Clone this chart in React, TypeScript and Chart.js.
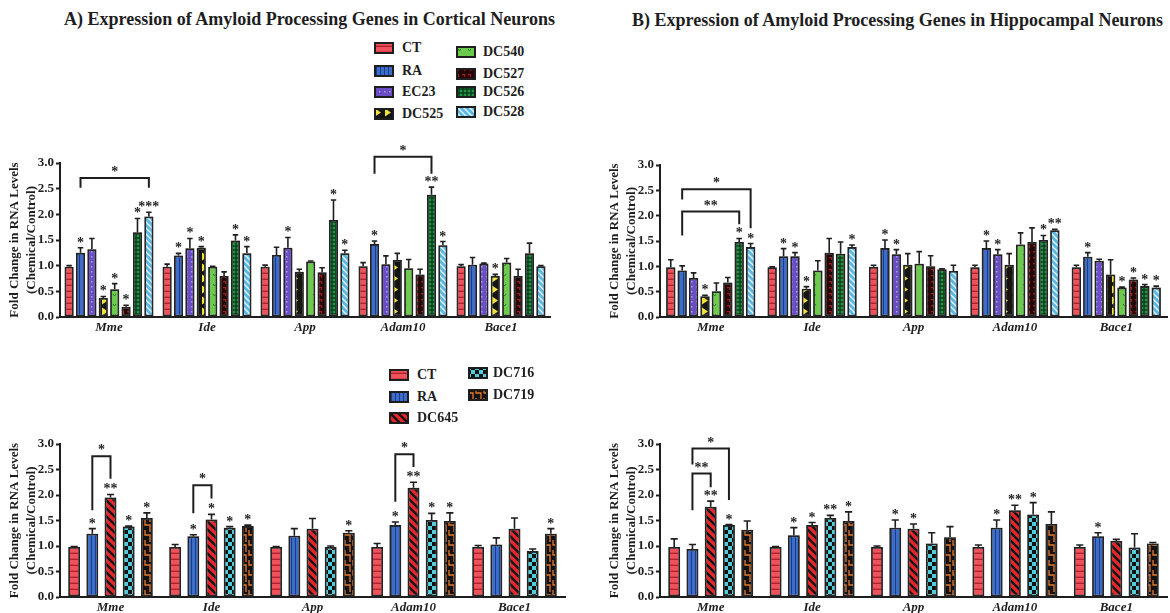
import React, { useEffect, useRef } from 'react';
import { Chart, registerables } from 'chart.js';
Chart.register(...registerables);

// ---------------- DATA ----------------
const genes = ['Mme', 'Ide', 'App', 'Adam10', 'Bace1'];
const yTickValues = [0, 0.5, 1, 1.5, 2, 2.5, 3];
const seriesTop = ['CT', 'RA', 'EC23', 'DC525', 'DC540', 'DC527', 'DC526', 'DC528'];
const seriesBottom = ['CT', 'RA', 'DC645', 'DC716', 'DC719'];
const titleA = 'A) Expression of Amyloid Processing Genes in Cortical Neurons';
const titleB = 'B) Expression of Amyloid Processing Genes in Hippocampal Neurons';
const yTitle = ['Fold Change in RNA Levels', '(Chemical/Control)'];

// Panel A (cortical, top) — mean, upper error, significance
const A_CT = [0.98, 0.98, 0.98, 0.99, 0.99];
const A_RA = [1.25, 1.2, 1.21, 1.42, 1.02];
const A_EC23 = [1.32, 1.34, 1.35, 1.03, 1.04];
const A_DC525 = [0.37, 1.35, 0.88, 1.11, 0.8];
const A_DC540 = [0.54, 0.98, 1.08, 0.95, 1.06];
const A_DC527 = [0.2, 0.8, 0.87, 0.83, 0.8];
const A_DC526 = [1.65, 1.49, 1.89, 2.38, 1.24];
const A_DC528 = [1.96, 1.24, 1.24, 1.4, 0.99];
const A_CT_ERR = [0.02, 0.05, 0.03, 0.07, 0.03];
const A_RA_ERR = [0.1, 0.04, 0.15, 0.06, 0.14];
const A_EC23_ERR = [0.21, 0.19, 0.2, 0.16, 0.01];
const A_DC525_ERR = [0.03, 0.02, 0.05, 0.13, 0.03];
const A_DC540_ERR = [0.11, 0.01, 0.01, 0.17, 0.08];
const A_DC527_ERR = [0.03, 0.08, 0.09, 0.1, 0.13];
const A_DC526_ERR = [0.27, 0.11, 0.39, 0.15, 0.2];
const A_DC528_ERR = [0.08, 0.13, 0.06, 0.07, 0.01];
const A_CT_SIG = ['', '', '', '', ''];
const A_RA_SIG = ['*', '*', '', '*', ''];
const A_EC23_SIG = ['', '*', '*', '', ''];
const A_DC525_SIG = ['*', '*', '', '', '*'];
const A_DC540_SIG = ['*', '', '', '', ''];
const A_DC527_SIG = ['*', '', '', '', ''];
const A_DC526_SIG = ['*', '*', '*', '**', ''];
const A_DC528_SIG = ['***', '*', '*', '*', ''];
const A_BRACKETS = [
  { gene: 0, from: 1, to: 7, top: 2.71, leftEnd: 2.52, rightEnd: 2.52, label: '*' },
  { gene: 3, from: 1, to: 6, top: 3.12, leftEnd: 2.79, rightEnd: 2.79, label: '*' },
];

// Panel B (hippocampal, top)
const B_CT = [0.98, 0.98, 0.99, 0.98, 0.98];
const B_RA = [0.92, 1.2, 1.36, 1.36, 1.19];
const B_EC23 = [0.77, 1.2, 1.24, 1.24, 1.11];
const B_DC525 = [0.41, 0.56, 1.03, 1.03, 0.84];
const B_DC540 = [0.51, 0.92, 1.05, 1.43, 0.58];
const B_DC527 = [0.68, 1.27, 1.0, 1.48, 0.74];
const B_DC526 = [1.48, 1.25, 0.94, 1.52, 0.61];
const B_DC528 = [1.38, 1.38, 0.91, 1.71, 0.58];
const B_CT_ERR = [0.15, 0.01, 0.03, 0.04, 0.04];
const B_RA_ERR = [0.09, 0.15, 0.16, 0.14, 0.08];
const B_EC23_ERR = [0.1, 0.07, 0.09, 0.09, 0.03];
const B_DC525_ERR = [0.02, 0.04, 0.22, 0.22, 0.29];
const B_DC540_ERR = [0.16, 0.19, 0.24, 0.23, 0.01];
const B_DC527_ERR = [0.1, 0.28, 0.21, 0.28, 0.03];
const B_DC526_ERR = [0.07, 0.23, 0.01, 0.09, 0.03];
const B_DC528_ERR = [0.07, 0.04, 0.11, 0.02, 0.03];
const B_CT_SIG = ['', '', '', '', ''];
const B_RA_SIG = ['', '*', '*', '*', '*'];
const B_EC23_SIG = ['', '*', '*', '*', ''];
const B_DC525_SIG = ['*', '*', '', '', ''];
const B_DC540_SIG = ['', '', '', '', '*'];
const B_DC527_SIG = ['', '', '', '', '*'];
const B_DC526_SIG = ['*', '', '', '*', '*'];
const B_DC528_SIG = ['*', '*', '', '**', '*'];
const B_BRACKETS = [
  { gene: 0, from: 1, to: 7, top: 2.52, leftEnd: 2.32, rightEnd: 1.75, label: '*' },
  { gene: 0, from: 1, to: 6, top: 2.08, leftEnd: 1.61, rightEnd: 1.83, label: '**' },
];

// Panel C (cortical, bottom)
const C_CT = [0.98, 0.98, 0.98, 0.98, 0.98];
const C_RA = [1.24, 1.19, 1.2, 1.41, 1.03];
const C_DC645 = [1.95, 1.52, 1.34, 2.14, 1.34];
const C_DC716 = [1.38, 1.36, 0.98, 1.51, 0.9];
const C_DC719 = [1.55, 1.39, 1.26, 1.49, 1.24];
const C_CT_ERR = [0.01, 0.05, 0.01, 0.07, 0.03];
const C_RA_ERR = [0.1, 0.03, 0.14, 0.06, 0.13];
const C_DC645_ERR = [0.06, 0.1, 0.2, 0.11, 0.21];
const C_DC716_ERR = [0.01, 0.02, 0.02, 0.13, 0.04];
const C_DC719_ERR = [0.1, 0.02, 0.04, 0.16, 0.1];
const C_CT_SIG = ['', '', '', '', ''];
const C_RA_SIG = ['*', '*', '', '*', ''];
const C_DC645_SIG = ['**', '*', '', '**', ''];
const C_DC716_SIG = ['*', '*', '', '*', ''];
const C_DC719_SIG = ['*', '*', '*', '*', '*'];
const C_BRACKETS = [
  { gene: 0, from: 1, to: 2, top: 2.76, leftEnd: 1.7, rightEnd: 2.32, label: '*' },
  { gene: 1, from: 1, to: 2, top: 2.19, leftEnd: 1.64, rightEnd: 1.93, label: '*' },
  { gene: 3, from: 1, to: 2, top: 2.8, leftEnd: 1.87, rightEnd: 2.55, label: '*' },
];

// Panel D (hippocampal, bottom)
const D_CT = [0.98, 0.98, 0.98, 0.98, 0.98];
const D_RA = [0.94, 1.21, 1.36, 1.36, 1.19];
const D_DC645 = [1.77, 1.41, 1.34, 1.7, 1.1];
const D_DC716 = [1.41, 1.55, 1.05, 1.62, 0.97];
const D_DC719 = [1.32, 1.49, 1.17, 1.43, 1.05];
const D_CT_ERR = [0.16, 0.01, 0.02, 0.04, 0.04];
const D_RA_ERR = [0.09, 0.15, 0.15, 0.15, 0.07];
const D_DC645_ERR = [0.11, 0.05, 0.09, 0.1, 0.03];
const D_DC716_ERR = [0.01, 0.05, 0.21, 0.23, 0.27];
const D_DC719_ERR = [0.17, 0.18, 0.21, 0.24, 0.02];
const D_CT_SIG = ['', '', '', '', ''];
const D_RA_SIG = ['', '*', '*', '*', '*'];
const D_DC645_SIG = ['**', '*', '*', '**', ''];
const D_DC716_SIG = ['*', '**', '', '*', ''];
const D_DC719_SIG = ['', '*', '', '', ''];
const D_BRACKETS = [
  { gene: 0, from: 1, to: 3, top: 2.91, leftEnd: 2.6, rightEnd: 1.9, label: '*' },
  { gene: 0, from: 1, to: 2, top: 2.42, leftEnd: 1.7, rightEnd: 2.15, label: '**' },
];

// ---------------- STYLE ----------------
const SERIF = '"Liberation Serif", "Times New Roman", serif';
const INK = '#1e1e1e';

function pat(w: number, h: number, bg: string, draw: (c: CanvasRenderingContext2D) => void): CanvasPattern | string {
  const cv = document.createElement('canvas');
  cv.width = w;
  cv.height = h;
  const c = cv.getContext('2d');
  if (!c) return bg;
  c.fillStyle = bg;
  c.fillRect(0, 0, w, h);
  draw(c);
  return c.createPattern(cv, 'repeat') || bg;
}

function diag(c: CanvasRenderingContext2D, s: number, color: string, lw: number) {
  c.strokeStyle = color;
  c.lineWidth = lw;
  c.beginPath();
  c.moveTo(-1, -1); c.lineTo(s + 1, s + 1);
  c.moveTo(-1, s - 1); c.lineTo(1, s + 1);
  c.moveTo(s - 1, -1); c.lineTo(s + 1, 1);
  c.stroke();
}

function makeFill(name: string): CanvasPattern | string {
  switch (name) {
    case 'CT':
      return pat(6, 6, '#f0525c', c => { c.fillStyle = '#b0222d'; c.fillRect(0, 4.6, 6, 1.4); });
    case 'RA':
      return pat(4, 4, '#3b6dc9', c => { c.fillStyle = '#1c3a85'; c.fillRect(3, 0, 1, 4); });
    case 'EC23':
      return pat(5, 5, '#6a4ec6', c => { c.fillStyle = '#ab9bf0'; c.fillRect(1, 1, 1.5, 1.5); });
    case 'DC525':
      return pat(10, 11, '#141410', c => {
        c.fillStyle = '#f2e23a';
        c.beginPath(); c.moveTo(2, 1.5); c.lineTo(8, 5.5); c.lineTo(2, 9.5); c.closePath(); c.fill();
      });
    case 'DC540':
      return pat(10, 10, '#6ccb4d', c => {
        c.strokeStyle = '#2b7a2a'; c.lineWidth = 1;
        c.beginPath(); c.moveTo(3, 4); c.lineTo(4.5, 6); c.lineTo(6, 4); c.stroke();
      });
    case 'DC527':
      return pat(6, 6, '#240606', c => { c.fillStyle = '#9e1b1b'; c.fillRect(1, 1, 3, 1.3); c.fillRect(3, 1, 1.2, 3); });
    case 'DC526':
      return pat(4, 4, '#06301a', c => { c.fillStyle = '#22943f'; c.fillRect(0.6, 0.6, 2.8, 2.8); });
    case 'DC528':
      return pat(6, 6, '#58b8e6', c => diag(c, 6, '#e6f5ff', 1.4));
    case 'DC645':
      return pat(8, 8, '#e8262b', c => diag(c, 8, '#151515', 2.4));
    case 'DC716':
      return pat(8, 8, '#121212', c => { c.fillStyle = '#52cddc'; c.fillRect(0, 0, 4, 4); c.fillRect(4, 4, 4, 4); });
    case 'DC719':
      return pat(8, 10, '#121212', c => {
        c.strokeStyle = '#e8792b'; c.lineWidth = 1.3;
        c.beginPath();
        c.moveTo(1, 0); c.lineTo(1, 5); c.lineTo(6, 5); c.lineTo(6, 10);
        c.moveTo(6, 0); c.lineTo(6, 2);
        c.stroke();
      });
    default:
      return '#888';
  }
}

type Bracket = { gene: number; from: number; to: number; top: number; leftEnd: number; rightEnd: number; label: string };

type PanelCfg = {
  left: number; top: number; width: number; height: number;
  padTop: number; padRight: number; padBottom: number; xHeight: number;
  names: string[]; values: number[][]; errs: number[][]; sigs: string[][];
  brackets: Bracket[]; catPct: number; barPct: number;
};

const panelA: PanelCfg = {
  left: 0, top: 130, width: 580, height: 215, padTop: 33, padRight: 30, padBottom: 8, xHeight: 20,
  names: seriesTop,
  values: [A_CT, A_RA, A_EC23, A_DC525, A_DC540, A_DC527, A_DC526, A_DC528],
  errs: [A_CT_ERR, A_RA_ERR, A_EC23_ERR, A_DC525_ERR, A_DC540_ERR, A_DC527_ERR, A_DC526_ERR, A_DC528_ERR],
  sigs: [A_CT_SIG, A_RA_SIG, A_EC23_SIG, A_DC525_SIG, A_DC540_SIG, A_DC527_SIG, A_DC526_SIG, A_DC528_SIG],
  brackets: A_BRACKETS, catPct: 0.93, barPct: 0.8,
};
const panelB: PanelCfg = {
  left: 600, top: 130, width: 570, height: 215, padTop: 35, padRight: 3, padBottom: 8, xHeight: 20,
  names: seriesTop,
  values: [B_CT, B_RA, B_EC23, B_DC525, B_DC540, B_DC527, B_DC526, B_DC528],
  errs: [B_CT_ERR, B_RA_ERR, B_EC23_ERR, B_DC525_ERR, B_DC540_ERR, B_DC527_ERR, B_DC526_ERR, B_DC528_ERR],
  sigs: [B_CT_SIG, B_RA_SIG, B_EC23_SIG, B_DC525_SIG, B_DC540_SIG, B_DC527_SIG, B_DC526_SIG, B_DC528_SIG],
  brackets: B_BRACKETS, catPct: 0.9, barPct: 0.82,
};
const panelC: PanelCfg = {
  left: 0, top: 410, width: 580, height: 203, padTop: 34, padRight: 15, padBottom: 0, xHeight: 16,
  names: seriesBottom,
  values: [C_CT, C_RA, C_DC645, C_DC716, C_DC719],
  errs: [C_CT_ERR, C_RA_ERR, C_DC645_ERR, C_DC716_ERR, C_DC719_ERR],
  sigs: [C_CT_SIG, C_RA_SIG, C_DC645_SIG, C_DC716_SIG, C_DC719_SIG],
  brackets: C_BRACKETS, catPct: 0.9, barPct: 0.65,
};
const panelD: PanelCfg = {
  left: 600, top: 410, width: 570, height: 203, padTop: 34, padRight: 3, padBottom: 0, xHeight: 16,
  names: seriesBottom,
  values: [D_CT, D_RA, D_DC645, D_DC716, D_DC719],
  errs: [D_CT_ERR, D_RA_ERR, D_DC645_ERR, D_DC716_ERR, D_DC719_ERR],
  sigs: [D_CT_SIG, D_RA_SIG, D_DC645_SIG, D_DC716_SIG, D_DC719_SIG],
  brackets: D_BRACKETS, catPct: 0.9, barPct: 0.65,
};

function annotPlugin(cfg: PanelCfg) {
  return {
    id: 'annot',
    beforeDatasetsDraw(chart: any) {
      const ctx = chart.ctx;
      ctx.save();
      ctx.shadowColor = 'rgba(80,80,80,0.6)';
      ctx.shadowBlur = 2;
    },
    afterDatasetsDraw(chart: any) {
      const ctx = chart.ctx;
      ctx.restore();
      const ys = chart.scales.y;
      ctx.save();
      ctx.strokeStyle = INK;
      ctx.fillStyle = INK;
      ctx.lineWidth = 1.6;
      ctx.font = `bold 14px ${SERIF}`;
      ctx.textAlign = 'center';
      ctx.textBaseline = 'alphabetic';
      cfg.values.forEach((vals, di) => {
        const meta = chart.getDatasetMeta(di);
        meta.data.forEach((bar: any, gi: number) => {
          const v = vals[gi];
          const e = cfg.errs[di][gi];
          const x = bar.x;
          const y0 = ys.getPixelForValue(v);
          const y1 = ys.getPixelForValue(v + e);
          const cap = Math.max(2.5, bar.width * 0.3);
          ctx.beginPath();
          ctx.moveTo(x, y0);
          ctx.lineTo(x, y1);
          ctx.moveTo(x - cap, y1);
          ctx.lineTo(x + cap, y1);
          ctx.stroke();
          const s = cfg.sigs[di][gi];
          if (s) ctx.fillText(s, x, y1 - 1);
        });
      });
      ctx.lineWidth = 2;
      cfg.brackets.forEach(b => {
        const xl = chart.getDatasetMeta(b.from).data[b.gene].x;
        const xr = chart.getDatasetMeta(b.to).data[b.gene].x;
        const yt = ys.getPixelForValue(b.top);
        ctx.beginPath();
        ctx.moveTo(xl, ys.getPixelForValue(b.leftEnd));
        ctx.lineTo(xl, yt);
        ctx.lineTo(xr, yt);
        ctx.lineTo(xr, ys.getPixelForValue(b.rightEnd));
        ctx.stroke();
        ctx.fillText(b.label, (xl + xr) / 2, yt - 2);
      });
      ctx.restore();
    },
  };
}

function Panel({ cfg }: { cfg: PanelCfg }) {
  const ref = useRef<HTMLCanvasElement>(null);
  useEffect(() => {
    if (!ref.current) return;
    const chart = new Chart(ref.current, {
      type: 'bar',
      data: {
        labels: genes,
        datasets: cfg.names.map((n, i) => ({
          label: n,
          data: cfg.values[i],
          backgroundColor: makeFill(n) as any,
          borderColor: INK,
          borderWidth: 1.8,
          borderSkipped: false,
          categoryPercentage: cfg.catPct,
          barPercentage: cfg.barPct,
        })),
      },
      options: {
        responsive: false,
        animation: false,
        events: [],
        layout: { padding: { top: cfg.padTop, right: cfg.padRight, bottom: cfg.padBottom, left: 0 } },
        plugins: { legend: { display: false }, tooltip: { enabled: false }, title: { display: false } },
        scales: {
          x: {
            grid: { display: false, drawTicks: false },
            border: { display: true, color: INK, width: 2 },
            ticks: { color: INK, font: { family: SERIF, size: 13, weight: 'bold', style: 'italic' }, padding: 3 },
            afterFit: (s: any) => { s.height = cfg.xHeight; },
          },
          y: {
            min: 0,
            max: 3,
            afterBuildTicks: (s: any) => { s.ticks = yTickValues.map(v => ({ value: v })); },
            grid: { drawOnChartArea: false, drawTicks: true, tickLength: 4, tickWidth: 2, tickColor: INK, color: INK },
            border: { display: true, color: INK, width: 2 },
            ticks: {
              color: INK,
              padding: 2,
              font: { family: SERIF, size: 13, weight: 'bold' },
              callback: (v: any) => Number(v).toFixed(1),
            },
            title: {
              display: true,
              text: yTitle,
              color: INK,
              font: { family: SERIF, size: 13, weight: 'bold', lineHeight: 1.25 },
              padding: { top: 7, bottom: 0 },
            },
            afterFit: (s: any) => { s.width = 60; },
          },
        },
      },
      plugins: [annotPlugin(cfg)],
    } as any);
    return () => chart.destroy();
  }, [cfg]);
  return (
    <canvas
      ref={ref}
      width={cfg.width}
      height={cfg.height}
      style={{ position: 'absolute', left: cfg.left, top: cfg.top, width: cfg.width, height: cfg.height }}
    />
  );
}

function Swatch({ name, x, y }: { name: string; x: number; y: number }) {
  const ref = useRef<HTMLCanvasElement>(null);
  useEffect(() => {
    const cv = ref.current;
    if (!cv) return;
    const c = cv.getContext('2d');
    if (!c) return;
    c.clearRect(0, 0, 22, 14);
    c.fillStyle = makeFill(name) as any;
    c.fillRect(2, 2, 18, 10);
    c.strokeStyle = INK;
    c.lineWidth = 2;
    c.strokeRect(2, 2, 18, 10);
  }, [name]);
  return <canvas ref={ref} width={22} height={14} style={{ position: 'absolute', left: x - 2, top: y - 7, width: 22, height: 14 }} />;
}

function Label({ text, x, y, size = 14 }: { text: string; x: number; y: number; size?: number }) {
  return (
    <div style={{ position: 'absolute', left: x, top: y - 9, lineHeight: '18px', fontFamily: SERIF, fontWeight: 'bold', fontSize: size, color: INK, whiteSpace: 'nowrap' }}>
      {text}
    </div>
  );
}

// legend placement (layout only)
const topLegendItems = [
  { name: 'CT', sx: 375, tx: 402, y: 48 },
  { name: 'RA', sx: 375, tx: 402, y: 71 },
  { name: 'EC23', sx: 375, tx: 402, y: 92 },
  { name: 'DC525', sx: 375, tx: 402, y: 114 },
  { name: 'DC540', sx: 457, tx: 483, y: 52 },
  { name: 'DC527', sx: 457, tx: 483, y: 74 },
  { name: 'DC526', sx: 457, tx: 483, y: 92 },
  { name: 'DC528', sx: 457, tx: 483, y: 112 },
];
const bottomLegendItems = [
  { name: 'CT', sx: 390, tx: 417, y: 375 },
  { name: 'RA', sx: 390, tx: 417, y: 397 },
  { name: 'DC645', sx: 390, tx: 417, y: 418 },
  { name: 'DC716', sx: 469, tx: 493, y: 373 },
  { name: 'DC719', sx: 469, tx: 493, y: 395 },
];

export default function App() {
  return (
    <div style={{ position: 'absolute', left: 0, top: 0, width: 1170, height: 613, background: '#fff', overflow: 'hidden' }}>
      <Panel cfg={panelA} />
      <Panel cfg={panelB} />
      <Panel cfg={panelC} />
      <Panel cfg={panelD} />
      <Label text={titleA} x={64} y={19} size={18} />
      <Label text={titleB} x={632} y={20} size={18} />
      {topLegendItems.map(it => (
        <React.Fragment key={'t' + it.name}>
          <Swatch name={it.name} x={it.sx} y={it.y} />
          <Label text={it.name} x={it.tx} y={it.y} />
        </React.Fragment>
      ))}
      {bottomLegendItems.map(it => (
        <React.Fragment key={'b' + it.name}>
          <Swatch name={it.name} x={it.sx} y={it.y} />
          <Label text={it.name} x={it.tx} y={it.y} />
        </React.Fragment>
      ))}
    </div>
  );
}
